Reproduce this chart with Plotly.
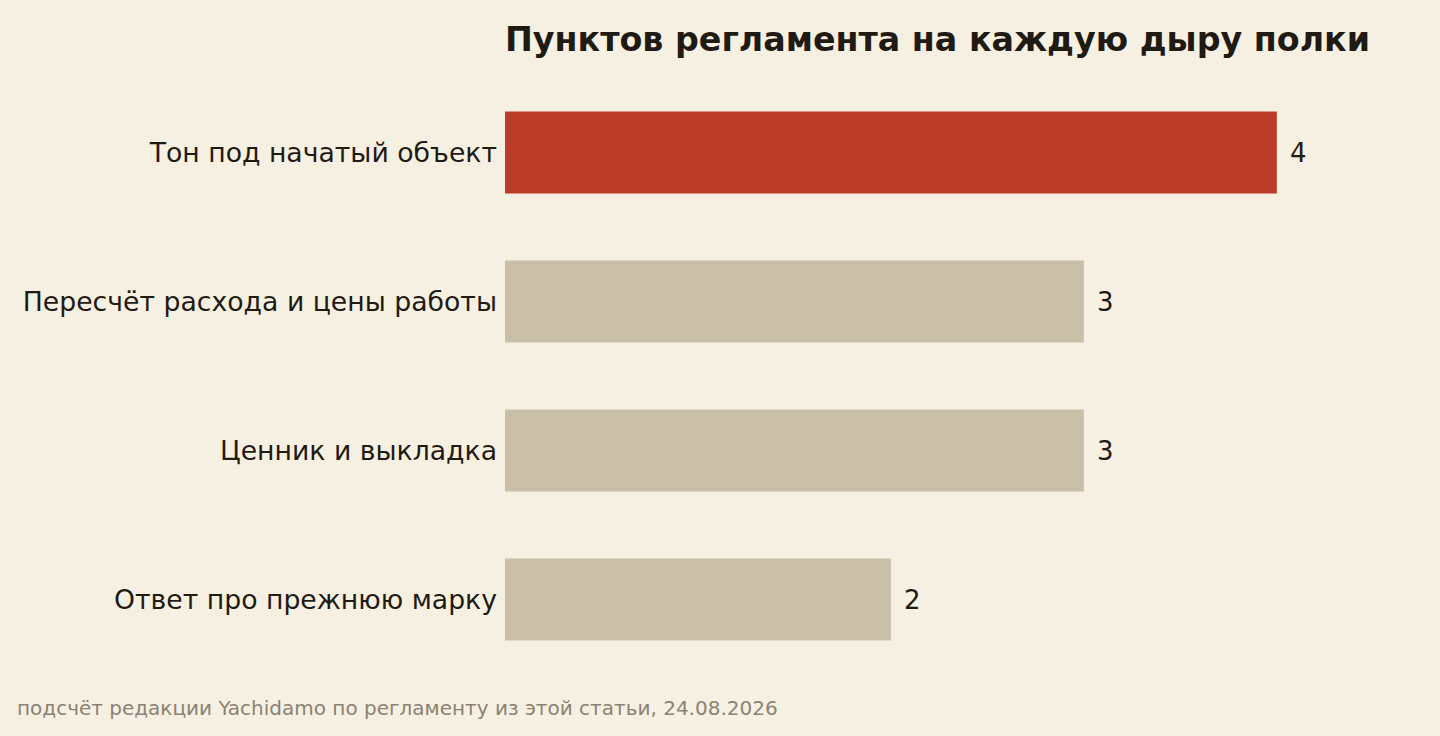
import plotly.graph_objects as go

categories = ["Тон под начатый объект", "Пересчёт расхода и цены работы",
              "Ценник и выкладка", "Ответ про прежнюю марку"]
values = [4, 3, 3, 2]
highlight = "Тон под начатый объект"

title_text = "Пунктов регламента на каждую дыру полки"
source_text = "подсчёт редакции Yachidamo по регламенту из этой статьи, 24.08.2026"

bg = "#f6f0e3"
ink = "#1f1a12"
colors = ["#bb3c28" if c == highlight else "#c9bfa7" for c in categories]

fig = go.Figure()
fig.add_trace(go.Bar(
    x=values,
    y=categories,
    orientation="h",
    marker=dict(color=colors, line=dict(width=0)),
    hoverinfo="skip",
))

# value labels just past the bar ends
for c, v in zip(categories, values):
    fig.add_annotation(x=v, y=c, text=str(v), showarrow=False,
                       xanchor="left", xshift=11,
                       font=dict(size=26, color=ink))

fig.add_annotation(text=source_text, xref="paper", yref="paper",
                   x=-490/849, y=-(708 - 674) / 596, xanchor="left", yanchor="middle",
                   showarrow=False, font=dict(size=20, color="#8a8273"))

fig.update_layout(
    width=1440, height=736,
    paper_bgcolor=bg, plot_bgcolor=bg,
    font=dict(family="DejaVu Sans", color=ink),
    title=dict(text="<b>" + title_text + "</b>", x=505/1440, xanchor="left",
               y=1 - 39/736, yanchor="middle", font=dict(size=33.3, color=ink)),
    margin=dict(l=505, r=86, t=78, b=62),
    bargap=0.45,
    showlegend=False,
    xaxis=dict(range=[0, 4.4], visible=False),
    yaxis=dict(autorange="reversed", showgrid=False, zeroline=False,
               showline=False, ticks="", ticklabelstandoff=7,
               tickfont=dict(size=26.7, color=ink)),
)

fig.write_html("out.html", config={"displayModeBar": False},
               post_script="document.body.style.margin='0';")
